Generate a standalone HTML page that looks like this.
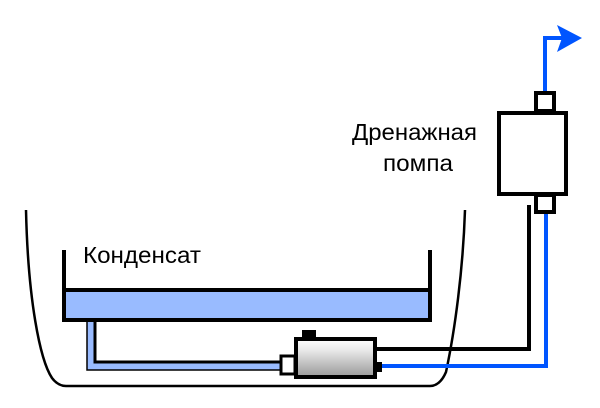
<!DOCTYPE html>
<html><head><style>body{margin:0;background:#fff}svg{display:block}</style></head><body>
<svg width="600" height="408" viewBox="0 0 600 408" xmlns="http://www.w3.org/2000/svg">
<defs><linearGradient id="g" x1="0" y1="0" x2="0" y2="1"><stop offset="0" stop-color="#fff"/><stop offset="0.3" stop-color="#e8e8e8"/><stop offset="1" stop-color="#999"/></linearGradient></defs>
<path d="M26 210 C28 300 40 360 52 378 Q58 386 66 386 L430 386 Q440 386 446 372 C455 330 463 270 465 210" fill="none" stroke="#000" stroke-width="2.5"/>
<rect x="64" y="290" width="366" height="30" fill="#99bbff" stroke="#000" stroke-width="4"/>
<line x1="64" y1="250" x2="64" y2="292" stroke="#000" stroke-width="4"/>
<line x1="430" y1="250" x2="430" y2="292" stroke="#000" stroke-width="4"/>
<path d="M91 322 V366 H282" fill="none" stroke="#99bbff" stroke-width="9"/>
<path d="M87 322 V370 H282" fill="none" stroke="#000" stroke-width="1.5"/>
<path d="M95 322 V362 H282" fill="none" stroke="#000" stroke-width="3"/>
<path d="M376 349 H529 V205" fill="none" stroke="#000" stroke-width="4"/>
<path d="M382 366 H546 V213" fill="none" stroke="#0055ff" stroke-width="4"/>
<path d="M545 92 V38 H562" fill="none" stroke="#0055ff" stroke-width="4"/>
<polygon points="557,25 582,38 557,52 562,38" fill="#0055ff"/>
<rect x="302" y="330" width="14" height="8" fill="#000"/>
<rect x="281" y="356" width="14" height="18" fill="#fff" stroke="#000" stroke-width="3"/>
<rect x="296" y="339" width="79" height="38" fill="url(#g)" stroke="#000" stroke-width="4"/>
<rect x="376" y="362" width="6" height="10" fill="#000"/>
<rect x="536" y="93" width="18" height="18" fill="#fff" stroke="#000" stroke-width="4"/>
<rect x="536" y="195" width="18" height="17" fill="#fff" stroke="#000" stroke-width="4"/>
<rect x="499" y="113" width="67" height="81" fill="#fff" stroke="#000" stroke-width="4"/>
<g font-family="Liberation Sans, sans-serif" font-size="23.5" fill="#000">
<text x="83" y="263" textLength="118" lengthAdjust="spacingAndGlyphs">Конденсат</text>
<text x="352" y="140" textLength="125" lengthAdjust="spacingAndGlyphs">Дренажная</text>
<text x="383" y="171" textLength="70" lengthAdjust="spacingAndGlyphs">помпа</text>
</g>
</svg>
</body></html>
